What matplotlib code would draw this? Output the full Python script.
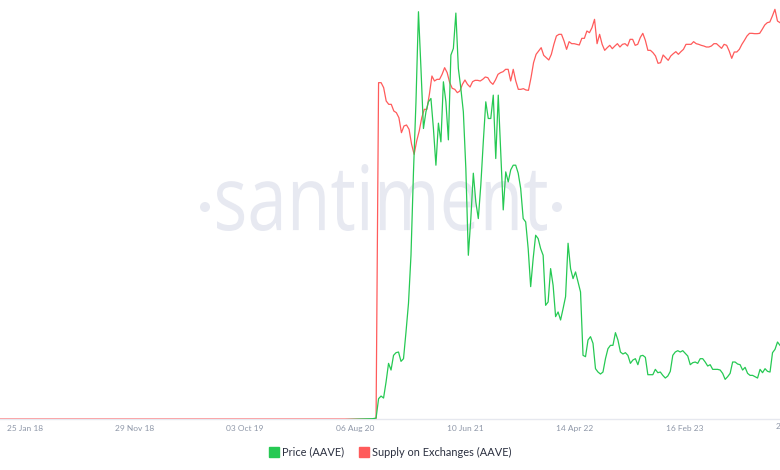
import matplotlib
matplotlib.use("Agg")
import matplotlib.pyplot as plt
import pandas as pd
import numpy as np
from matplotlib.lines import Line2D
from matplotlib.textpath import TextPath
from matplotlib.patches import PathPatch, Circle
from matplotlib.font_manager import FontProperties
from matplotlib.transforms import Affine2D, IdentityTransform

# data (supply in thousand AAVE, price in USD)
early_dates = ['2017-11-16', '2018-03-01', '2018-07-01', '2018-11-01', '2019-03-01', '2019-07-01',
               '2019-11-01', '2020-03-01', '2020-07-01', '2020-08-20', '2020-09-24', '2020-10-04']
supply_early = [0, 0, 0, 0, 0, 0, 0, 0, 0, 0, 0, 1]
price_early = [0, 0, 0, 0, 0, 0, 0, 0, 0.5, 1.5, 2, 3]

supply = [1009, 1009, 994, 954, 944, 944, 924, 919, 904, 859, 879, 882, 869, 824, 794, 834, 864, 904,
          929, 929, 974, 1029, 1014, 1019, 1019, 1034, 1054, 1039, 1009, 992, 989, 979, 984, 1004, 1017,
          1004, 996, 1012, 1016, 1016, 1014, 1019, 1026, 1024, 1011, 1004, 1017, 1034, 1039, 1042, 1049,
          1049, 1014, 1049, 1014, 989, 989, 991, 987, 986, 1024, 1069, 1094, 1104, 1114, 1091, 1084, 1077,
          1094, 1124, 1149, 1154, 1154, 1134, 1109, 1132, 1126, 1126, 1124,
          1122, 1142, 1142, 1164, 1159, 1174, 1199, 1126, 1154, 1124, 1106, 1114, 1121, 1111, 1119, 1126,
          1116, 1124, 1126, 1119, 1139, 1139, 1121, 1124, 1144, 1157, 1136, 1106, 1106, 1099, 1089, 1067,
          1069, 1092, 1084, 1076, 1089, 1096, 1102, 1094, 1102, 1109, 1124, 1124, 1124, 1132, 1126, 1124,
          1121, 1119, 1116, 1116, 1119, 1126, 1126, 1119, 1112, 1124, 1121, 1104, 1082, 1101, 1101, 1109,
          1124, 1136, 1149, 1157, 1157, 1156, 1156, 1157, 1169, 1182, 1189, 1191, 1209, 1229, 1194, 1189]

price = [32, 36, 33, 57, 85, 75, 97, 101, 102, 88, 92, 132, 175, 247, 372, 477, 612,
         527, 437, 462, 477, 482, 437, 382, 445, 417, 507, 477, 420, 547, 557, 610,
         527, 497, 462, 377, 247, 302, 370, 327, 302, 352, 417, 477, 452, 452, 487, 392, 487, 402, 315,
         372, 357, 375, 382, 382, 370, 347, 302, 297, 257, 200, 242, 277, 272, 257, 247, 172, 177, 227,
         202, 155, 162, 150, 167, 185, 265, 227, 212, 222, 207, 192,
         97, 95, 120, 125, 115, 77, 72, 69, 72, 92, 107, 112, 112, 131, 120, 102, 99, 101, 97, 85, 90,
         92, 83, 96, 97, 94, 68, 68, 68, 76, 71, 72, 67, 63, 66, 73, 97, 102, 104, 102, 104, 100, 96, 83,
         86, 87, 85, 92, 92, 87, 81, 83, 76, 76, 76, 75, 70, 61, 65, 70, 87, 87, 84, 83, 75, 79, 70, 67,
         67, 65, 63, 76, 71, 77, 73, 72, 101, 106, 117, 112]

tick_dates = ['2018-01-25', '2018-11-29', '2019-10-03', '2020-08-06', '2021-06-10', '2022-04-14', '2023-02-16']
tick_labels = ['25 Jan 18', '29 Nov 18', '03 Oct 19', '06 Aug 20', '10 Jun 21', '14 Apr 22', '16 Feb 23']

red = '#ff5b5b'
green = '#26c953'

supply_x = pd.to_datetime(early_dates).append(pd.date_range('2020-10-11', '2023-11-09', periods=len(supply)))
price_x = pd.to_datetime(early_dates).append(pd.date_range('2020-10-11', '2023-11-09', periods=len(price)))
supply_y = supply_early + supply
price_y = price_early + price

fig = plt.figure(figsize=(7.8, 4.7), dpi=100)
ax = fig.add_axes([0, 51 / 470, 1, 419 / 470])
ax.set_facecolor('none')
ax.plot(supply_x, supply_y, color=red, lw=0.9, zorder=2)
ax.set_ylim(0, 1257)
ax.set_xlim(pd.Timestamp('2017-11-16'), pd.Timestamp('2023-11-09'))

ax2 = ax.twinx()
ax2.plot(price_x, price_y, color=green, lw=0.9)
ax2.set_ylim(1.6, 629.6)
ax2.set_xlim(pd.Timestamp('2017-11-16'), pd.Timestamp('2023-11-09'))

for a in (ax, ax2):
    for s in a.spines.values():
        s.set_visible(False)
    a.set_yticks([])
ax.spines['bottom'].set_visible(True)
ax.spines['bottom'].set_color('#e6e8ef')
ax.spines['bottom'].set_linewidth(1)

ax.set_xticks(pd.to_datetime(tick_dates))
ax.set_xticklabels(tick_labels, fontsize=6, color='#8e97a8', family='Lato')
ax.tick_params(axis='x', length=0, pad=4)
# next tick sits past the right edge and is cut off, as in the reference
ax.text(pd.Timestamp('2023-12-21'), -(4 / 419), '21 Dec 23', transform=ax.get_xaxis_transform(),
        ha='center', va='top', fontsize=6, color='#8e97a8', family='Lato', clip_on=False)

# watermark
fp = FontProperties(family='Open Sans')
tp = TextPath((0, 0), 'santiment', size=84, prop=fp)
bb = tp.get_extents()
tr = Affine2D().translate(-bb.x0, -bb.y0).scale(330 / bb.width, 67 / bb.height).translate(217, 239)
wm = PathPatch(tr.transform_path(tp), facecolor='#e7e9f1', edgecolor='none',
               transform=IdentityTransform(), zorder=0)
ax.add_artist(wm)
for cx in (205, 557):
    ax.add_artist(Circle((cx, 470 - 207), 5, facecolor='#e7e9f1', edgecolor='none',
                         transform=IdentityTransform(), zorder=0))

handles = [Line2D([], [], marker='s', color=green, ls='None', markersize=6.5),
           Line2D([], [], marker='s', color=red, ls='None', markersize=6.5)]
fig.legend(handles, ['Price (AAVE)', 'Supply on Exchanges (AAVE)'], loc='center',
           bbox_to_anchor=(0.5, 1 - 452 / 470), ncol=2, frameon=False,
           prop=FontProperties(family='Lato', size=7.9), labelcolor='#2b3040',
           handletextpad=0.2, columnspacing=1.4, handlelength=1.0)

fig.savefig('out.png', dpi=100, facecolor='white')
